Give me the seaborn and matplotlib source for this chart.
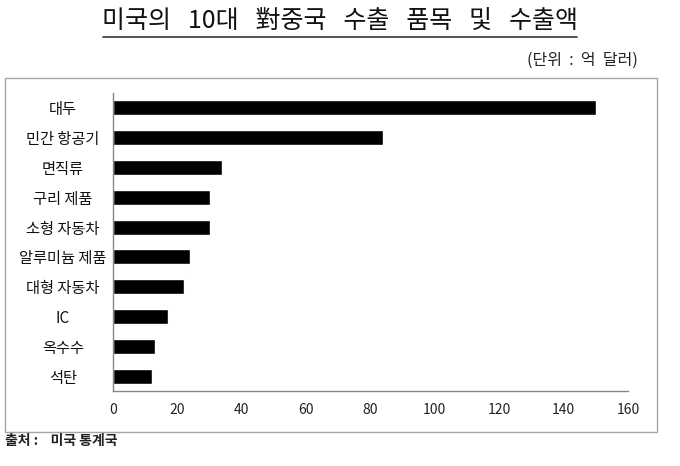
import matplotlib
matplotlib.use("Agg")
import matplotlib.pyplot as plt
from matplotlib.patches import Rectangle
from matplotlib.lines import Line2D
import pandas as pd
import seaborn as sns

# data
items = ["대두", "민간 항공기", "면직류", "구리 제품", "소형 자동차",
         "알루미늄 제품", "대형 자동차", "IC", "옥수수", "석탄"]
amounts = [150, 84, 34, 30, 30, 24, 22, 17, 13, 12]
xticks = [0, 20, 40, 60, 80, 100, 120, 140, 160]

sns.set_style("white")
plt.rcParams['font.family'] = ['Noto Sans CJK KR', 'DejaVu Sans']

df = pd.DataFrame({"item": items, "amount": amounts})

fig = plt.figure(figsize=(6.8, 4.66), dpi=100)
W, H = 680, 466

# outer frame around the chart
fig.add_artist(Rectangle((5 / W, 1 - 432 / H), 652 / W, 354 / H,
                         transform=fig.transFigure, fill=False,
                         edgecolor="#a6a6a6", lw=1.0))

ax = fig.add_axes([113 / W, 1 - 391 / H, 515 / W, 298 / H])
sns.barplot(data=df, x="amount", y="item", color="black", saturation=1,
            width=0.5, ax=ax)

ax.set_xlim(0, 160)
ax.set_ylim(9.5, -0.5)
ax.set_xticks(xticks)
ax.set_xlabel("")
ax.set_ylabel("")
ax.set_facecolor("none")

for s in ["top", "right"]:
    ax.spines[s].set_visible(False)
for s in ["left", "bottom"]:
    ax.spines[s].set_color("#868686")
    ax.spines[s].set_linewidth(1.0)

ax.tick_params(axis="x", direction="in", length=4, width=0.8, color="#868686",
               labelsize=10, labelcolor="#222222", pad=9)
ax.tick_params(axis="y", length=0, labelsize=11, labelcolor="#111111", pad=36)
for lab in ax.get_yticklabels():
    lab.set_horizontalalignment("center")

# title with underline
fig.text(340 / W, 1 - 22 / H, "미국의   10대   對중국   수출   품목   및   수출액",
         ha="center", va="center", fontsize=18, color="#111111")
fig.add_artist(Line2D([103 / W, 577 / W], [1 - 37 / H, 1 - 37 / H],
                      transform=fig.transFigure, color="#333333", lw=1.2))

fig.text(638 / W, 1 - 60 / H, "(단위  :  억  달러)", ha="right", va="center",
         fontsize=11.5, color="#222222")
fig.text(5 / W, 1 - 441 / H, "출처 :    미국 통계국", ha="left", va="center",
         fontsize=10, fontweight="bold", color="#222222")

fig.savefig("out.png", dpi=100)
